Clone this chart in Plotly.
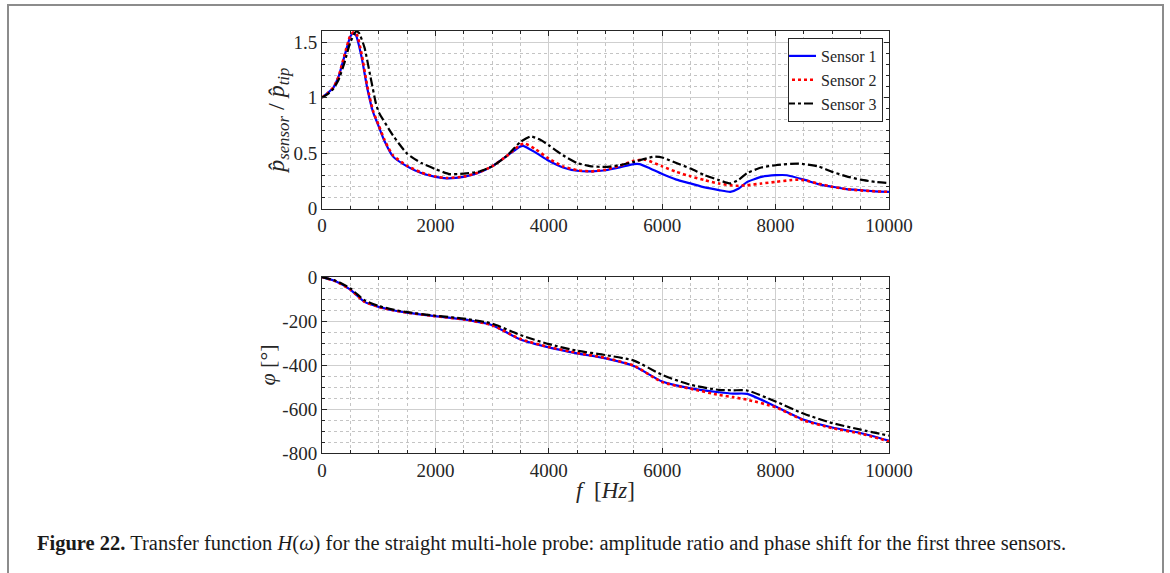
import plotly.graph_objects as go

# ---------------- data ----------------
f_s1 = [0, 100, 200, 260, 300, 400, 500, 550, 600, 700, 800, 900, 1000, 1100, 1250, 1500, 1750, 2000, 2200, 2500,
        2750, 3000, 3250, 3500, 3550, 3750, 4000, 4250, 4500, 4750, 5000, 5250, 5500, 5600, 5750, 6000, 6250,
        6500, 6750, 7000, 7200, 7350, 7500, 7750, 8000, 8200, 8500, 8750, 9000, 9250, 9500, 9750, 10000]
amp_s1 = [1.0, 1.04, 1.09, 1.15, 1.2, 1.38, 1.55, 1.58, 1.56, 1.36, 1.08, 0.87, 0.74, 0.61, 0.47, 0.38, 0.32, 0.285, 0.272, 0.285,
          0.32, 0.38, 0.47, 0.56, 0.565, 0.51, 0.43, 0.37, 0.34, 0.335, 0.345, 0.37, 0.40, 0.40, 0.37, 0.31, 0.26,
          0.226, 0.19, 0.166, 0.15, 0.18, 0.24, 0.285, 0.30, 0.30, 0.26, 0.22, 0.196, 0.175, 0.165, 0.155, 0.15]

f_s2 = [0, 100, 200, 260, 300, 400, 500, 560, 620, 700, 800, 900, 1000, 1100, 1250, 1500, 1750, 2000, 2200, 2500,
        2750, 3000, 3250, 3500, 3580, 3750, 4000, 4250, 4500, 4750, 5000, 5250, 5500, 5700, 6000, 6250, 6500,
        6750, 7000, 7300, 7500, 7750, 8000, 8250, 8400, 8500, 8750, 9000, 9250, 9500, 9750, 10000]
amp_s2 = [1.0, 1.04, 1.09, 1.15, 1.2, 1.39, 1.56, 1.59, 1.56, 1.39, 1.1, 0.88, 0.75, 0.62, 0.48, 0.385, 0.325, 0.288, 0.275, 0.288,
          0.322, 0.38, 0.47, 0.575, 0.585, 0.54, 0.45, 0.38, 0.345, 0.335, 0.35, 0.385, 0.43, 0.44, 0.38, 0.33, 0.29,
          0.255, 0.225, 0.205, 0.21, 0.225, 0.24, 0.255, 0.26, 0.256, 0.225, 0.196, 0.175, 0.163, 0.155, 0.15]

f_s3 = [0, 100, 200, 260, 300, 400, 500, 600, 650, 750, 850, 950, 1000, 1250, 1500, 1750, 2000, 2250, 2500,
        2750, 3000, 3250, 3500, 3680, 3850, 4000, 4250, 4500, 4750, 5000, 5250, 5500, 5850, 6000, 6250, 6500,
        6750, 7000, 7200, 7350, 7500, 7750, 8000, 8400, 8750, 9000, 9250, 9500, 9750, 10000]
amp_s3 = [1.0, 1.03, 1.08, 1.13, 1.17, 1.32, 1.5, 1.595, 1.585, 1.45, 1.2, 0.95, 0.87, 0.66, 0.495, 0.41, 0.355, 0.31, 0.315,
          0.33, 0.38, 0.47, 0.60, 0.65, 0.62, 0.57, 0.48, 0.41, 0.38, 0.375, 0.39, 0.42, 0.467, 0.46, 0.41, 0.36,
          0.30, 0.256, 0.226, 0.26, 0.32, 0.37, 0.39, 0.405, 0.38, 0.33, 0.29, 0.26, 0.24, 0.23]

f_ph = [0, 250, 500, 600, 750, 1000, 1250, 1500, 2000, 2500, 3000, 3500, 4000, 4500, 5000, 5500, 6000, 6500,
        7000, 7250, 7500, 8000, 8500, 9000, 9500, 10000]
ph_s1 = [0, -20, -57, -80, -113, -136, -151, -162, -178, -193, -219, -284, -320, -347, -370, -405, -475, -506,
         -524, -530, -531, -589, -649, -684, -709, -744]
ph_s2 = [0, -20, -57, -80, -112, -136, -151, -162, -178, -193, -219, -282, -318, -345, -368, -403, -478, -508,
         -536, -546, -558, -592, -652, -687, -712, -747]
ph_s3 = [0, -18, -52, -74, -106, -132, -148, -160, -176, -189, -212, -264, -305, -335, -355, -380, -445, -490,
         -513, -515, -516, -566, -622, -664, -694, -721]

names = ["Sensor 1", "Sensor 2", "Sensor 3"]
x_ticks = [0, 2000, 4000, 6000, 8000, 10000]
amp_ticks = [0, 0.5, 1, 1.5]
amp_tick_text = ["0", "0.5", "1", "1.5"]
ph_ticks = [0, -200, -400, -600, -800]
ph_tick_text = ["0", "-200", "-400", "-600", "-800"]
caption = ("<b>Figure 22.</b> Transfer function <i>H</i>(<i>ω</i>) for the straight multi-hole probe: "
           "amplitude ratio and phase shift for the first three sensors.")

# ---------------- styling ----------------
W, H = 1170, 573
FONT = "Liberation Serif"
colors = ["#0000ff", "#ff0000", "#000000"]
dashes = ["solid", "dot", "dashdot"]
widths = [2.2, 2.6, 2.2]

fig = go.Figure()

amp = [(f_s1, amp_s1), (f_s2, amp_s2), (f_s3, amp_s3)]
ph = [ph_s1, ph_s2, ph_s3]
for i in range(3):
    fig.add_trace(go.Scatter(x=amp[i][0], y=amp[i][1], mode="lines", name=names[i],
                             line=dict(color=colors[i], dash=dashes[i], width=widths[i], shape="spline", smoothing=0.5),
                             xaxis="x", yaxis="y", cliponaxis=True))
for i in range(3):
    fig.add_trace(go.Scatter(x=f_ph, y=ph[i], mode="lines", name=names[i], showlegend=False,
                             line=dict(color=colors[i], dash=dashes[i], width=widths[i], shape="spline", smoothing=0.6),
                             xaxis="x2", yaxis="y2"))

x0, x1 = 322 / W, 889 / W
TXT = "#262626"
common_axis = dict(
    showline=True, linecolor=TXT, linewidth=1, mirror="allticks",
    ticks="inside", ticklen=5, tickcolor=TXT,
    showgrid=True, gridcolor="#cfcfcf", gridwidth=1,
    zeroline=False, automargin=False,
    tickfont=dict(family=FONT, size=19, color=TXT),
)
minor_style = dict(showgrid=True, griddash="dot", gridcolor="#c4c4c4",
                   ticks="inside", ticklen=3, tickcolor=TXT)

fig.update_layout(
    width=W, height=H,
    margin=dict(l=0, r=0, t=0, b=0, pad=0, autoexpand=False),
    paper_bgcolor="white", plot_bgcolor="white",
    font=dict(family=FONT, color=TXT),
    xaxis=dict(domain=[x0, x1], anchor="y", range=[0, 10000], tickvals=x_ticks,
               ticktext=[str(v) for v in x_ticks],
               minor=dict(dtick=500, tick0=0, **minor_style),
               **common_axis),
    yaxis=dict(domain=[1 - 208.5 / H, 1 - 31 / H], anchor="x", range=[0, 1.6],
               tickvals=amp_ticks, ticktext=amp_tick_text,
               minor=dict(dtick=0.1, tick0=0, **minor_style),
               title=dict(text="<i>p̂</i><sub><i>sensor</i></sub> / <i>p̂</i><sub><i>tip</i></sub>",
                          font=dict(family=FONT, size=24, color=TXT), standoff=1),
               **common_axis),
    xaxis2=dict(domain=[x0, x1], anchor="y2", range=[0, 10000], tickvals=x_ticks,
                ticktext=[str(v) for v in x_ticks],
                minor=dict(dtick=500, tick0=0, **minor_style),
                title=dict(text="<i>f</i>  [<i>Hz</i>]", font=dict(family=FONT, size=23, color=TXT),
                           standoff=2),
                **common_axis),
    yaxis2=dict(domain=[1 - 453 / H, 1 - 277 / H], anchor="x2", range=[-800, 0],
                tickvals=ph_ticks, ticktext=ph_tick_text,
                minor=dict(dtick=50, tick0=0, **minor_style),
                title=dict(text="<i>φ</i> [°]", font=dict(family=FONT, size=22, color=TXT), standoff=0),
                **common_axis),
    legend=dict(x=883 / W, y=1 - 38 / H, xanchor="right", yanchor="top",
                bgcolor="white", bordercolor=TXT, borderwidth=1,
                font=dict(family=FONT, size=16, color=TXT),
                tracegroupgap=0, itemwidth=30, indentation=-8),
    showlegend=True,
)

# page frame (open at the bottom) and caption
fig.add_shape(type="path", xref="paper", yref="paper",
              path=f"M {8 / W} 0 L {8 / W} {1 - 5 / H} L {1163 / W} {1 - 5 / H} L {1163 / W} 0",
              line=dict(color="#8c8c8c", width=2))
fig.add_annotation(text=caption, xref="paper", yref="paper", x=35 / W, y=1 - 543 / H,
                   xanchor="left", yanchor="middle", showarrow=False,
                   font=dict(family=FONT, size=20.5, color="#1a1a1a"))

fig.write_html("out.html")
